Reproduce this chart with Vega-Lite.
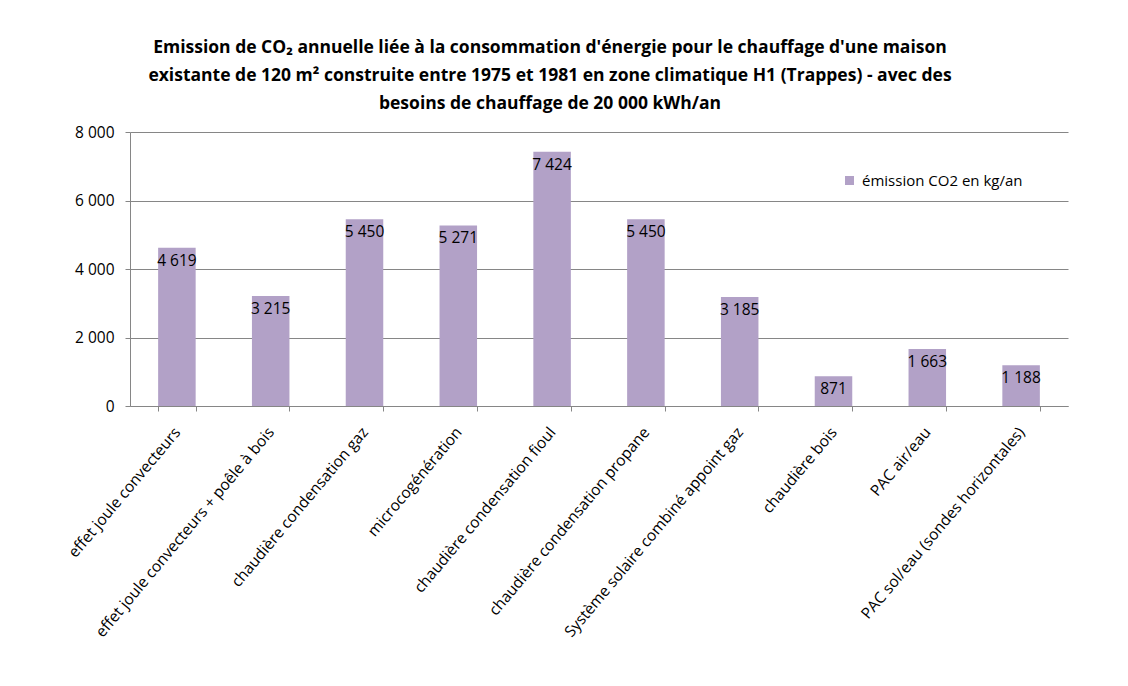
{
  "$schema": "https://vega.github.io/schema/vega-lite/v6.json",
  "autosize": "none",
  "width": 938,
  "height": 274,
  "padding": {"left": 130, "top": 132, "right": 60, "bottom": 280},
  "background": "white",
  "title": {
    "text": ["Emission de  CO₂ annuelle liée à la consommation d'énergie pour le chauffage d'une maison", "existante de 120 m² construite entre 1975 et 1981 en zone climatique H1 (Trappes) - avec des", "besoins de chauffage de 20 000 kWh/an"],
    "anchor": "middle",
    "frame": "group",
    "dx": -49,
    "offset": 13,
    "font": "Open Sans",
    "fontSize": 17.5,
    "fontWeight": "bold",
    "lineHeight": 28,
    "color": "#000000"
  },
  "data": {
    "values": [
      {"systeme": "effet joule convecteurs", "emission": 4619, "serie": "émission CO2 en kg/an"},
      {"systeme": "effet joule convecteurs + poêle à bois", "emission": 3215, "serie": "émission CO2 en kg/an"},
      {"systeme": "chaudière condensation gaz", "emission": 5450, "serie": "émission CO2 en kg/an"},
      {"systeme": "microcogénération", "emission": 5271, "serie": "émission CO2 en kg/an"},
      {"systeme": "chaudière condensation fioul", "emission": 7424, "serie": "émission CO2 en kg/an"},
      {"systeme": "chaudière condensation propane", "emission": 5450, "serie": "émission CO2 en kg/an"},
      {"systeme": "Système solaire combiné appoint gaz", "emission": 3185, "serie": "émission CO2 en kg/an"},
      {"systeme": "chaudière bois", "emission": 871, "serie": "émission CO2 en kg/an"},
      {"systeme": "PAC air/eau", "emission": 1663, "serie": "émission CO2 en kg/an"},
      {"systeme": "PAC sol/eau (sondes horizontales)", "emission": 1188, "serie": "émission CO2 en kg/an"}
    ]
  },
  "encoding": {
    "x": {
      "field": "systeme",
      "type": "nominal",
      "sort": null,
      "scale": {"paddingInner": 0.6, "paddingOuter": 0.3},
      "axis": {
        "title": null,
        "labelAngle": -50,
        "labelAlign": "right",
        "labelBaseline": "middle",
        "labelPadding": 18,
        "labelFont": "Open Sans",
        "labelFontSize": 15.5,
        "labelColor": "#000000",
        "labelLimit": 400,
        "tickBand": "extent",
        "tickColor": "#868686",
        "tickSize": 5,
        "domainColor": "#868686",
        "grid": false
      }
    },
    "y": {
      "field": "emission",
      "type": "quantitative",
      "scale": {"domain": [0, 8000]},
      "axis": {
        "title": null,
        "values": [0, 2000, 4000, 6000, 8000],
        "format": ",d",
        "labelFont": "Open Sans",
        "labelFontSize": 15.5,
        "labelColor": "#000000",
        "labelPadding": 11,
        "tickColor": "#868686",
        "tickSize": 5,
        "domainColor": "#868686",
        "grid": true,
        "gridColor": "#868686",
        "gridWidth": 1
      }
    }
  },
  "layer": [
    {
      "mark": {"type": "bar", "color": "#B2A1C7"},
      "encoding": {
        "color": {
          "field": "serie",
          "type": "nominal",
          "scale": {"range": ["#B2A1C7"]},
          "legend": {
            "title": null,
            "orient": "none",
            "legendX": 712,
            "legendY": 41,
            "padding": 0,
            "symbolType": "square",
            "symbolSize": 81,
            "symbolStrokeWidth": 0,
            "labelFont": "Open Sans",
            "labelFontSize": 15,
            "labelColor": "#000000",
            "labelOffset": 5,
            "labelLimit": 300
          }
        }
      }
    },
    {
      "mark": {"type": "text", "baseline": "top", "align": "center", "dy": 6, "font": "Open Sans", "fontSize": 15.5, "color": "#000000"},
      "encoding": {
        "text": {"field": "emission", "type": "quantitative", "format": ",d"}
      }
    }
  ],
  "config": {
    "view": {"stroke": null},
    "locale": {
      "number": {"decimal": ",", "thousands": " ", "grouping": [3], "currency": ["", " €"]}
    }
  }
}
